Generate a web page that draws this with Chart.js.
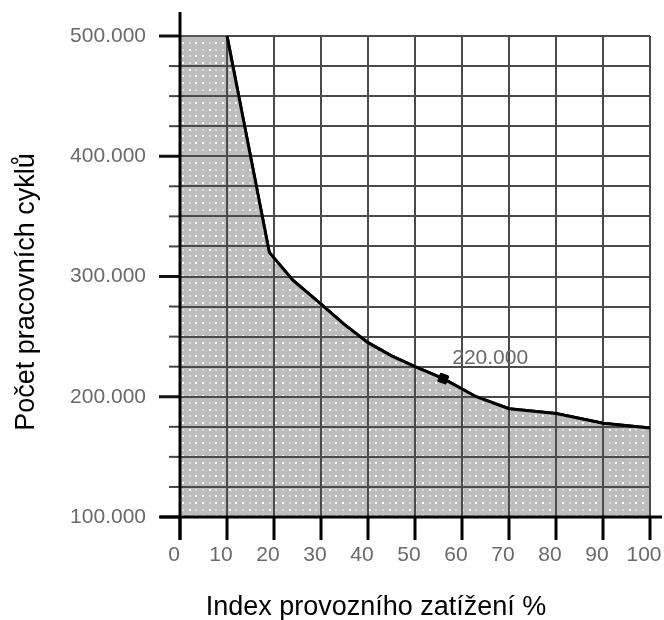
<!DOCTYPE html>
<html>
<head>
<meta charset="utf-8">
<script src="https://cdn.jsdelivr.net/npm/chart.js@4/dist/chart.umd.min.js"></script>
<style>
  html, body { margin: 0; padding: 0; background: #fff; }
  #wrap { width: 664px; height: 620px; }
</style>
</head>
<body>
<div id="wrap"><canvas id="cycles"></canvas></div>
<script>
// curve: load index (%) vs. number of working cycles
const loadIdx = [0, 10, 19, 24, 30, 35, 40, 45, 50, 56, 63, 70, 80, 90, 100];
const cycles = [500000, 500000, 320000, 297000, 277000, 260000, 245000, 234000, 225000, 215000, 200000, 190000, 186000, 178000, 174000];
// marked point
const markX = [56];
const markY = [215000];
const markText = ['220.000'];
// axis titles
const xTitle = 'Index provozního zatížení %';
const yTitle = 'Počet pracovních cyklů';

const tickFont = '21px "Liberation Sans", Arial, sans-serif';

function fmt(v) {
  return String(v).replace(/\B(?=(\d{3})+(?!\d))/g, '.');
}

function dots() {
  const c = document.createElement('canvas');
  c.width = 20; c.height = 20;
  const g = c.getContext('2d');
  g.fillStyle = '#bdbdbd'; g.fillRect(0, 0, 20, 20);
  [0, 7, 13].forEach((a, i) => {
    [0, 7, 13].forEach((b, j) => {
      g.fillStyle = (i + j) % 2 ? '#dcdcdc' : '#ffffff';
      g.fillRect(a + 2, b + 2, 2, 2);
    });
  });
  return g.createPattern(c, 'repeat');
}

//axes, ticks, titles, label
const decor = {
  id: 'decor',
  afterDraw(chart) {
    const ctx = chart.ctx;
    const x = chart.scales.x, y = chart.scales.y;
    const x0 = x.getPixelForValue(0), y0 = y.getPixelForValue(100000);

    // line + marker on top of the grid
    chart.getDatasetMeta(1).controller.draw();
    chart.getDatasetMeta(2).controller.draw();

    ctx.save();
    // y ticks
    y.ticks.forEach(t => {
      const py = y.getPixelForValue(t.value);
      const major = t.value % 100000 === 0;
      ctx.lineWidth = major ? 3 : 2;
      ctx.strokeStyle = major ? '#111' : '#444';
      ctx.beginPath();
      ctx.moveTo(x0 - (major ? 21 : 11), py);
      ctx.lineTo(x0, py);
      ctx.stroke();
    });
    // x ticks
    ctx.strokeStyle = '#000';
    ctx.lineWidth = 3;
    x.ticks.forEach(t => {
      const px = x.getPixelForValue(t.value);
      ctx.beginPath();
      ctx.moveTo(px, y0);
      ctx.lineTo(px, y0 + 23);
      ctx.stroke();
    });
    // axis lines
    ctx.beginPath();
    ctx.moveTo(x0, 12);
    ctx.lineTo(x0, y0 + 23);
    ctx.moveTo(x0 - 20, y0);
    ctx.lineTo(662, y0);
    ctx.stroke();

    // titles
    ctx.fillStyle = '#000';
    ctx.font = '27px "Liberation Sans", Arial, sans-serif';
    ctx.textAlign = 'center';
    ctx.textBaseline = 'alphabetic';
    ctx.fillText(xTitle, 376, 615);
    ctx.save();
    ctx.translate(34, 292);
    ctx.rotate(-Math.PI / 2);
    ctx.fillText(yTitle, 0, 0);
    ctx.restore();

    // point label
    const pt = chart.getDatasetMeta(2).data[0];
    ctx.fillStyle = '#6a6a6a';
    ctx.font = tickFont;
    ctx.textAlign = 'left';
    ctx.textBaseline = 'middle';
    ctx.fillText(markText[0], pt.x + 9, pt.y - 21);
    ctx.restore();
  }
};

const fillData = loadIdx.map((v, i) => ({x: v, y: cycles[i]}));

new Chart(document.getElementById('cycles'), {
  type: 'line',
  data: {
    datasets: [
      {
        data: fillData,
        borderWidth: 0,
        pointRadius: 0,
        backgroundColor: dots(),
        fill: 'start'
      },
      {
        data: fillData,
        borderColor: '#000',
        borderWidth: 3,
        pointRadius: 0,
        fill: false,
        segment: {
          borderColor: c => c.p0DataIndex === 0 ? '#555' : '#000',
          borderWidth: c => c.p0DataIndex === 0 ? 2 : 3
        }
      },
      {
        data: markX.map((v, i) => ({x: v, y: markY[i]})),
        showLine: false,
        pointStyle: 'rect',
        pointRadius: 6,
        pointRotation: 20,
        pointBackgroundColor: '#000',
        pointBorderColor: '#000'
      }
    ]
  },
  options: {
    responsive: true,
    maintainAspectRatio: false,
    animation: false,
    layout: { padding: { left: 0, top: 36, right: 14, bottom: 0 } },
    plugins: {
      legend: { display: false },
      title: { display: false, text: '' },
      tooltip: { enabled: false }
    },
    scales: {
      x: {
        type: 'linear',
        min: 0,
        max: 100,
        afterFit: s => { s.height = 103; s.paddingLeft = 0; s.paddingRight = 0; },
        grid: { color: '#4a4a4a', lineWidth: 2, drawTicks: false, z: 1 },
        border: { display: false },
        ticks: {
          stepSize: 10,
          padding: 26,
          labelOffset: -6,
          color: '#6a6a6a',
          maxRotation: 0,
          font: { family: '"Liberation Sans", Arial, sans-serif', size: 21 }
        }
      },
      y: {
        type: 'linear',
        min: 100000,
        max: 500000,
        afterFit: s => { s.width = 180; s.paddingTop = 0; s.paddingBottom = 0; },
        grid: { color: '#4a4a4a', lineWidth: 2, drawTicks: false, z: 1 },
        border: { display: false },
        ticks: {
          stepSize: 25000,
          padding: 34,
          color: '#6a6a6a',
          autoSkip: false,
          font: { family: '"Liberation Sans", Arial, sans-serif', size: 21 },
          callback: v => v % 100000 === 0 ? fmt(v) : ''
        }
      }
    }
  },
  plugins: [decor]
});
</script>
</body>
</html>
